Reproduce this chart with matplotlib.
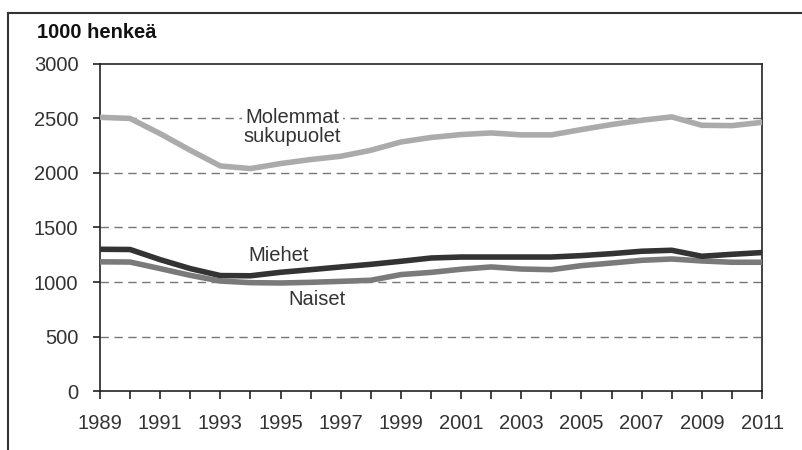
import numpy as np
import matplotlib.pyplot as plt
from matplotlib.lines import Line2D

plt.rcParams['font.family'] = ['Liberation Sans', 'DejaVu Sans']

# Data (1000 persons)
years = list(range(1989, 2012))
molemmat = [2510, 2500, 2360, 2208, 2064, 2040, 2086, 2123, 2153, 2208, 2284, 2325,
            2352, 2367, 2349, 2349, 2398, 2444, 2483, 2514, 2437, 2434, 2464]
miehet = [1300, 1298, 1205, 1123, 1059, 1057, 1089, 1113, 1138, 1162, 1190, 1220,
          1229, 1229, 1229, 1229, 1242, 1260, 1282, 1291, 1236, 1254, 1270]
naiset = [1185, 1183, 1123, 1061, 1009, 994, 991, 997, 1006, 1016, 1068, 1088,
          1117, 1138, 1119, 1113, 1150, 1174, 1199, 1211, 1193, 1181, 1181]

yticks = [0, 500, 1000, 1500, 2000, 2500, 3000]
xlabels = list(range(1989, 2012, 2))

fig = plt.figure(figsize=(8.03, 4.5), dpi=100)
ax = fig.add_axes([0.1245, 0.131, 0.8245, 0.727])

# outer frame (cut at right and bottom)
fig.add_artist(Line2D([8/803, 8/803], [0, 1 - 13/450], transform=fig.transFigure,
                      color='#333333', lw=1.5))
fig.add_artist(Line2D([8/803, 1], [1 - 13/450, 1 - 13/450], transform=fig.transFigure,
                      color='#333333', lw=1.5))

for v in yticks[1:-1]:
    ax.axhline(v, color='#777777', lw=1, ls=(0, (6, 4)), zorder=1)

ax.plot(years, molemmat, color='#ababab', lw=4, zorder=3, solid_joinstyle='round')
ax.plot(years, naiset, color='#7a7a7a', lw=4, zorder=4, solid_joinstyle='round')
ax.plot(years, miehet, color='#333333', lw=4, zorder=5, solid_joinstyle='round')

ax.set_xlim(1989, 2011)
ax.set_ylim(0, 3000)
ax.set_yticks(yticks)
ax.set_xticks(xlabels)
ax.set_xticks(range(1990, 2011, 2), minor=True)
ax.tick_params(axis='both', which='both', direction='out', colors='#222222',
               labelsize=14.5, width=1.2)
ax.tick_params(axis='both', labelcolor='#333333')
ax.tick_params(axis='y', length=5, pad=10.5)
ax.tick_params(axis='x', which='both', length=6, pad=10.5)
for s in ax.spines.values():
    s.set_color('#222222')
    s.set_linewidth(1.2)

ax.text(1995.4, 2424, 'Molemmat\nsukupuolet', ha='center', va='center',
        fontsize=14.5, color='#333333', linespacing=1.0, zorder=6,
        bbox=dict(facecolor='white', edgecolor='none', pad=1))
ax.text(1994.95, 1245, 'Miehet', ha='center', va='center', fontsize=14.5,
        color='#333333', zorder=6)
ax.text(1996.2, 842, 'Naiset', ha='center', va='center', fontsize=14.5,
        color='#333333', zorder=6)

fig.text(37/803, 1 - 33/450, '1000 henkeä', ha='left', va='center',
         fontsize=14.5, fontweight='bold', color='#111111')

fig.savefig('out.png', dpi=100)
